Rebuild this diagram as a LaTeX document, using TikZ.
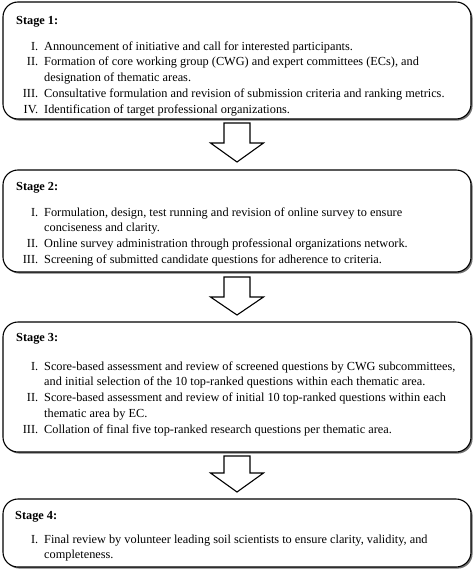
\documentclass[tikz,border=0pt]{standalone}
\usepackage{fontspec}
\setmainfont{Liberation Serif}
\usetikzlibrary{calc,shadows}
\newcommand\itm[1]{\makebox[22pt][r]{#1}\hspace{6pt}}
\begin{document}
\begin{tikzpicture}[x=1pt,y=-1pt,
  stagebox/.style={draw=black, line width=1.1pt, rounded corners=15pt, fill=white,
    inner sep=0pt, outer sep=0pt, minimum width=468pt,
    drop shadow={shadow xshift=1.6pt, shadow yshift=-1.6pt, fill=black!55, opacity=1}},
  head/.style={anchor=base west, inner sep=0pt, font=\fontsize{12.3}{15.8}\selectfont\bfseries},
  items/.style={anchor=base west, inner sep=0pt, font=\fontsize{12.3}{15.8}\selectfont},
  blockarrow/.style={draw=black, line width=1.1pt, fill=white, line join=miter}]
\useasboundingbox (0,0) rectangle (474,570);
\node[stagebox, minimum height=117pt] (b1) at (237,60.5) {};
\node[stagebox, minimum height=102pt] (b2) at (237,221) {};
\node[stagebox, minimum height=130pt] (b3) at (237,387) {};
\node[stagebox, minimum height=68pt] (b4) at (237,533) {};

\node[head] (h1) at (16,24) {Stage 1:};
\node[items] (t1) at (16,50) {\begin{tabular}[t]{@{}l@{}}
\itm{I.}Announcement of initiative and call for interested participants.\\
\itm{II.}Formation of core working group (CWG) and expert committees (ECs), and\\
\itm{}designation of thematic areas.\\
\itm{III.}Consultative formulation and revision of submission criteria and ranking metrics.\\
\itm{IV.}Identification of target professional organizations.
\end{tabular}};

\node[head] (h2) at (16,190) {Stage 2:};
\node[items] (t2) at (16,216) {\begin{tabular}[t]{@{}l@{}}
\itm{I.}Formulation, design, test running and revision of online survey to ensure\\
\itm{}conciseness and clarity.\\
\itm{II.}Online survey administration through professional organizations network.\\
\itm{III.}Screening of submitted candidate questions for adherence to criteria.
\end{tabular}};

\node[head] (h3) at (16,341) {Stage 3:};
\node[items] (t3) at (16,370) {\begin{tabular}[t]{@{}l@{}}
\itm{I.}Score-based assessment and review of screened questions by CWG subcommittees,\\
\itm{}and initial selection of the 10 top-ranked questions within each thematic area.\\
\itm{II.}Score-based assessment and review of initial 10 top-ranked questions within each\\
\itm{}thematic area by EC.\\
\itm{III.}Collation of final five top-ranked research questions per thematic area.
\end{tabular}};

\node[head] (h4) at (15,519) {Stage 4:};
\node[items] (t4) at (16,543) {\begin{tabular}[t]{@{}l@{}}
\itm{I.}Final review by volunteer leading soil scientists to ensure clarity, validity, and\\
\itm{}completeness.
\end{tabular}};

\draw[blockarrow] ($(b1.south)+(-13,4)$) -- ($(b1.south)+(13,4)$) -- ($(b2.north)+(13,-27)$)
  -- ($(b2.north)+(26.5,-27)$) -- ($(b2.north)+(0,-8)$) -- ($(b2.north)+(-26.5,-27)$)
  -- ($(b2.north)+(-13,-27)$) -- cycle;
\draw[blockarrow] ($(b2.south)+(-13,5)$) -- ($(b2.south)+(13,5)$) -- ($(b3.north)+(13,-25)$)
  -- ($(b3.north)+(26.5,-25)$) -- ($(b3.north)+(0,-7)$) -- ($(b3.north)+(-26.5,-25)$)
  -- ($(b3.north)+(-13,-25)$) -- cycle;
\draw[blockarrow] ($(b3.south)+(-13,4)$) -- ($(b3.south)+(13,4)$) -- ($(b4.north)+(13,-26)$)
  -- ($(b4.north)+(26.5,-26)$) -- ($(b4.north)+(0,-7)$) -- ($(b4.north)+(-26.5,-26)$)
  -- ($(b4.north)+(-13,-26)$) -- cycle;
\end{tikzpicture}
\end{document}
